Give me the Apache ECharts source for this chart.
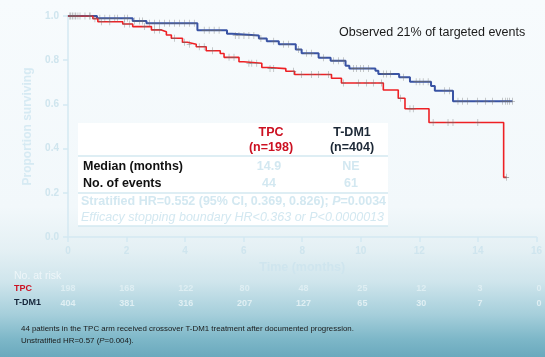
<!DOCTYPE html>
<html><head><meta charset="utf-8">
<script src="https://cdn.jsdelivr.net/npm/echarts@6/dist/echarts.min.js"></script>
<style>
html,body{margin:0;padding:0;}
body{width:545px;height:357px;overflow:hidden;
background:linear-gradient(180deg,#f7fbfd 0%,#f2f8fb 58%,#e4f0f4 70%,#cfe5ec 79%,#a6cfdb 88%,#7db7c8 95%,#6aa9bd 100%);}
#c{width:545px;height:357px;}
</style></head>
<body><div id="c"></div>
<script>
// Kaplan-Meier step points: [time (months), proportion surviving]
const tdm1Curve = [[0,1.0],[0.99,0.99],[2.21,0.977],[2.68,0.967],[4.42,0.935],[5.43,0.92],[5.6,0.912],[6.52,0.898],[6.79,0.886],[7.2,0.872],[7.78,0.848],[7.98,0.831],[8.56,0.811],[8.97,0.797],[9.48,0.775],[9.61,0.762],[10.5,0.752],[10.6,0.738],[11.31,0.723],[11.68,0.703],[12.4,0.683],[12.53,0.662],[13.15,0.614],[15.18,0.614]];
const tpcCurve = [[0,1.0],[0.85,0.988],[1.02,0.974],[1.87,0.964],[2.21,0.952],[2.85,0.937],[3.19,0.929],[3.36,0.914],[3.53,0.899],[3.91,0.881],[4.08,0.872],[4.38,0.861],[4.72,0.843],[5.2,0.83],[5.33,0.813],[5.84,0.793],[6.0,0.786],[6.62,0.767],[6.86,0.762],[7.44,0.75],[7.74,0.735],[9.0,0.718],[9.34,0.697],[10.77,0.665],[11.28,0.628],[11.51,0.58],[12.33,0.518],[14.88,0.27],[14.98,0.27]];
// censoring times (months)
const tdm1Censor = [0.07,0.14,0.24,0.34,0.58,0.75,1.09,1.26,1.43,1.6,1.7,1.94,2.04,2.28,2.45,2.55,2.79,2.96,3.13,3.29,3.46,3.63,3.8,3.97,4.14,4.31,4.65,4.82,4.99,5.16,5.71,5.84,6.01,6.18,6.35,6.59,7.03,7.37,7.54,7.88,8.15,8.32,8.73,9.07,9.24,9.41,9.75,9.85,9.99,10.09,10.26,10.77,10.87,11.01,11.45,11.89,12.02,12.13,12.3,12.87,13.04,13.32,13.48,13.65,13.99,14.27,14.5,14.84,14.95,15.01,15.08,15.18];
const tpcCensor = [0.07,0.17,0.27,0.41,0.75,0.92,1.15,1.43,1.94,2.11,2.62,2.96,3.13,3.63,3.97,4.14,4.48,4.65,4.93,5.5,5.67,6.18,6.28,6.45,6.9,7.03,7.71,7.98,8.32,8.56,8.9,9.41,9.92,10.19,10.43,10.7,11.35,11.68,11.79,12.47,12.98,13.15,14.0,14.98];
// numbers at risk
const riskTimes = [0,2,4,6,8,10,12,14,16];
const tpcAtRisk = [198,168,122,80,48,25,12,3,0];
const tdm1AtRisk = [404,381,316,207,127,65,30,7,0];
const xTicks = ['0','2','4','6','8','10','12','14','16'];

function survAt(curve,t){let s=curve[0][1];for(const p of curve){if(p[0]<=t)s=p[1];else break;}return s;}
const censorPts = (curve,times)=>times.map(t=>[t,survAt(curve,t)]);

const FF = '"Liberation Sans", Arial, sans-serif';
const light = '#cfe5ee';
const PLUS = 'path://M-0.35,-4h0.7v3.65h3.65v0.7h-3.65v3.65h-0.7v-3.65h-3.65v-0.7h3.65z';
const chart = echarts.init(document.getElementById('c'),null,{renderer:'canvas'});
const riskRow = (name,arr)=>riskTimes.map((t,i)=>[t,name,arr[i]]);

chart.setOption({
  backgroundColor:'transparent',
  animation:false,
  grid:[{left:68,right:6,top:16,bottom:120},{left:68,right:6,top:281.5,height:30}],
  xAxis:[{type:'value',gridIndex:0,min:0,max:16,interval:2,
    axisLine:{show:true,lineStyle:{color:'#d4e9f2',width:1.5}},
    axisTick:{show:true,length:5,lineStyle:{color:'#d4e9f2',width:1.5}},
    axisLabel:{color:light,fontFamily:FF,fontWeight:'bold',fontSize:10,margin:9,formatter:(v)=>xTicks[v/2]},
    splitLine:{show:false},
    name:'Time (months)',nameLocation:'middle',nameGap:24,
    nameTextStyle:{color:light,fontFamily:FF,fontWeight:'bold',fontSize:12.5}},
   {type:'value',gridIndex:1,min:0,max:16,show:false}],
  yAxis:[{type:'value',gridIndex:0,min:0,max:1,interval:0.2,
    axisLine:{show:true,lineStyle:{color:'#d4e9f2',width:1.5}},
    axisTick:{show:true,length:5,lineStyle:{color:'#d4e9f2',width:1.5}},
    axisLabel:{color:light,fontFamily:FF,fontWeight:'bold',fontSize:10,margin:9,formatter:(v)=>v.toFixed(1)},
    splitLine:{show:false},
    name:'Proportion surviving',nameLocation:'middle',nameGap:34,
    nameTextStyle:{color:'#d6eaf3',fontFamily:FF,fontWeight:'bold',fontSize:12}},
   {type:'category',gridIndex:1,data:['TPC','T-DM1'],inverse:true,show:false}],
  graphic:[
    {type:'rect',shape:{x:78,y:123,width:310,height:103},style:{fill:'#ffffff'},z:5},
    {type:'line',shape:{x1:78,y1:156,x2:388,y2:156},style:{stroke:'#d3e8f1',lineWidth:1.5},z:6},
    {type:'line',shape:{x1:78,y1:193,x2:388,y2:193},style:{stroke:'#d3e8f1',lineWidth:1.5},z:6},
    {type:'line',shape:{x1:78,y1:226,x2:388,y2:226},style:{stroke:'#d3e8f1',lineWidth:1.5},z:6},
    {type:'text',z:7,style:{text:'TPC',x:271,y:133,align:'center',verticalAlign:'middle',font:'bold 12.5px '+FF,fill:'#cc1122'}},
    {type:'text',z:7,style:{text:'(n=198)',x:271,y:148,align:'center',verticalAlign:'middle',font:'bold 12.5px '+FF,fill:'#cc1122'}},
    {type:'text',z:7,style:{text:'T-DM1',x:352,y:133,align:'center',verticalAlign:'middle',font:'bold 12.5px '+FF,fill:'#1c2836'}},
    {type:'text',z:7,style:{text:'(n=404)',x:352,y:148,align:'center',verticalAlign:'middle',font:'bold 12.5px '+FF,fill:'#1c2836'}},
    {type:'text',z:7,style:{text:'Median (months)',x:83,y:167,align:'left',verticalAlign:'middle',font:'bold 12.5px '+FF,fill:'#111'}},
    {type:'text',z:7,style:{text:'No. of events',x:83,y:184,align:'left',verticalAlign:'middle',font:'bold 12.5px '+FF,fill:'#111'}},
    {type:'text',z:7,style:{text:'14.9',x:269,y:167,align:'center',verticalAlign:'middle',font:'bold 12.5px '+FF,fill:'#d3e8f1'}},
    {type:'text',z:7,style:{text:'NE',x:351,y:167,align:'center',verticalAlign:'middle',font:'bold 12.5px '+FF,fill:'#d3e8f1'}},
    {type:'text',z:7,style:{text:'44',x:269,y:184,align:'center',verticalAlign:'middle',font:'bold 12.5px '+FF,fill:'#d3e8f1'}},
    {type:'text',z:7,style:{text:'61',x:351,y:184,align:'center',verticalAlign:'middle',font:'bold 12.5px '+FF,fill:'#d3e8f1'}},
    {type:'text',z:7,style:{text:'Stratified HR=0.552 (95% CI, 0.369, 0.826); {i|P}=0.0034',x:81,y:202,align:'left',verticalAlign:'middle',font:'bold 12.5px '+FF,fill:'#d3e8f1',
      rich:{i:{font:'italic bold 12.5px '+FF,fill:'#d3e8f1'}}}},
    {type:'text',z:7,style:{text:'Efficacy stopping boundary HR<0.363 or P<0.0000013',x:81,y:218,align:'left',verticalAlign:'middle',font:'italic 12.5px '+FF,fill:'#d3e8f1'}},
    {type:'text',z:7,style:{text:'Observed 21% of targeted events',x:339,y:33,align:'left',verticalAlign:'middle',font:'12.5px '+FF,fill:'#1a1a1a'}},
    {type:'text',z:7,style:{text:'No. at risk',x:14,y:276,align:'left',verticalAlign:'middle',font:'10.5px '+FF,fill:'#eef6f9'}},
    {type:'text',z:7,style:{text:'TPC',x:14,y:289,align:'left',verticalAlign:'middle',font:'bold 9px '+FF,fill:'#cc1122'}},
    {type:'text',z:7,style:{text:'T-DM1',x:14,y:303,align:'left',verticalAlign:'middle',font:'bold 9px '+FF,fill:'#15263a'}},
    {type:'text',z:7,style:{text:'44 patients in the TPC arm received crossover T-DM1 treatment after documented progression.',x:21,y:329,align:'left',verticalAlign:'middle',font:'7.9px '+FF,fill:'#1a1a1a'}},
    {type:'text',z:7,style:{text:'Unstratified HR=0.57 ({i|P}=0.004).',x:21,y:341,align:'left',verticalAlign:'middle',font:'7.9px '+FF,fill:'#1a1a1a',
      rich:{i:{font:'italic 7.9px '+FF,fill:'#1a1a1a'}}}}
  ],
  series:[
    {type:'line',name:'T-DM1',xAxisIndex:0,yAxisIndex:0,data:tdm1Curve,step:'end',showSymbol:false,
      lineStyle:{color:'#3953a4',width:2},z:10},
    {type:'line',name:'TPC',xAxisIndex:0,yAxisIndex:0,data:tpcCurve,step:'end',showSymbol:false,
      lineStyle:{color:'#ee2024',width:1.6},z:11},
    {type:'scatter',xAxisIndex:0,yAxisIndex:0,data:censorPts(tdm1Curve,tdm1Censor),symbol:PLUS,symbolSize:[5,7],
      itemStyle:{color:'#6e6e6e',opacity:0.8},z:12},
    {type:'scatter',xAxisIndex:0,yAxisIndex:0,data:censorPts(tpcCurve,tpcCensor),symbol:PLUS,symbolSize:[5,7],
      itemStyle:{color:'#6e6e6e',opacity:0.8},z:12},
    {type:'scatter',xAxisIndex:1,yAxisIndex:1,data:riskRow('TPC',tpcAtRisk),symbolSize:0,
      label:{show:true,position:'inside',formatter:(p)=>p.value[2],color:'#e4f1f5',fontFamily:FF,fontWeight:'bold',fontSize:9}},
    {type:'scatter',xAxisIndex:1,yAxisIndex:1,data:riskRow('T-DM1',tdm1AtRisk),symbolSize:0,
      label:{show:true,position:'inside',formatter:(p)=>p.value[2],color:'#ebf5f8',fontFamily:FF,fontWeight:'bold',fontSize:9}}
  ]
});
</script></body></html>
